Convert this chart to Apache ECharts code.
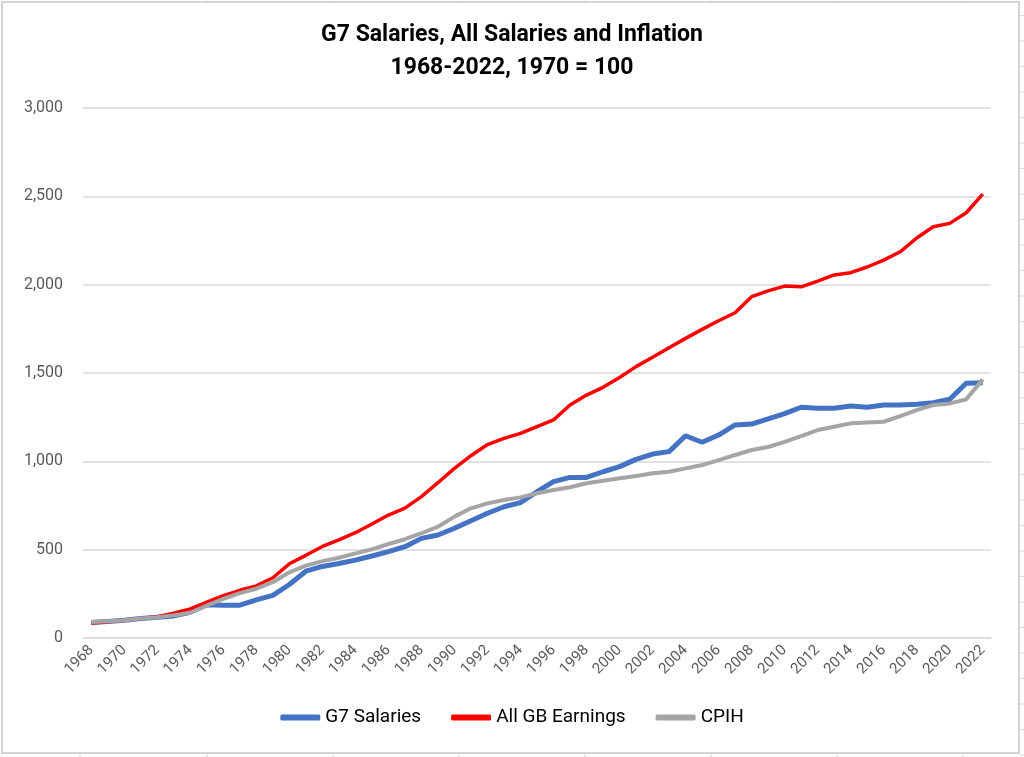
<!DOCTYPE html>
<html>
<head>
<meta charset="utf-8">
<script src="https://cdn.jsdelivr.net/npm/echarts@6/dist/echarts.min.js"></script>
<style>
  html, body { margin: 0; padding: 0; background: #fff; }
  #line_chart { width: 1024px; height: 757px; }
</style>
</head>
<body>
<div id="line_chart"></div>
<script>
// years on the x axis
let years = [];
for (let yr = 1968; yr <= 2022; yr++) years.push(String(yr));

// values, 1970 = 100
let g7Salaries = [88, 93, 100, 110, 117, 125, 146, 188, 186, 186,
    216, 241, 303, 378, 405, 422, 441, 464, 489, 517,
    564, 583, 621, 664, 706, 743, 766, 828, 885, 909,
    909, 941, 970, 1011, 1041, 1055, 1145, 1108, 1149, 1206,
    1211, 1240, 1270, 1306, 1300, 1300, 1313, 1306, 1319, 1319,
    1323, 1332, 1351, 1442, 1445];
let gbEarnings = [85, 92, 100, 110, 120, 140, 165, 203, 240, 270,
    295, 341, 420, 468, 518, 556, 596, 645, 696, 735,
    800, 879, 960, 1032, 1095, 1130, 1158, 1196, 1234, 1319,
    1375, 1419, 1475, 1536, 1589, 1643, 1696, 1747, 1796, 1841,
    1932, 1965, 1992, 1988, 2020, 2055, 2068, 2100, 2139, 2186,
    2264, 2328, 2347, 2407, 2513];
let cpih = [90, 95, 100, 110, 117, 128, 143, 184, 221, 254,
    279, 316, 372, 410, 435, 454, 479, 502, 532, 559,
    593, 630, 687, 734, 762, 781, 796, 819, 838, 853,
    876, 890, 904, 917, 932, 941, 960, 979, 1007, 1036,
    1064, 1081, 1110, 1143, 1177, 1196, 1215, 1220, 1224, 1256,
    1290, 1319, 1328, 1351, 1464];

let myChart = echarts.init(document.getElementById('line_chart'));
let font = 'Roboto, "Open Sans", sans-serif';

// chart frame and the spreadsheet cell lines peeking out around it
let sheet = [{
    type: 'rect',
    shape: { x: 2, y: 2, width: 1017, height: 751 },
    style: { fill: null, stroke: '#d4d4d4', lineWidth: 2 },
    silent: true
}];
for (let k = 0; k < 30; k++) {
    sheet.push({
        type: 'line',
        shape: { x1: 1020, y1: 15.5 + k * 25.5, x2: 1024, y2: 15.5 + k * 25.5 },
        style: { stroke: '#d9d9d9', lineWidth: 1 },
        silent: true
    });
}
[80, 207, 333, 459, 585, 711, 837, 963].forEach(x => {
    sheet.push({
        type: 'line',
        shape: { x1: x, y1: 0, x2: x, y2: 1 },
        style: { stroke: '#d9d9d9', lineWidth: 1 },
        silent: true
    });
    sheet.push({
        type: 'line',
        shape: { x1: x, y1: 754, x2: x, y2: 757 },
        style: { stroke: '#d9d9d9', lineWidth: 1 },
        silent: true
    });
});

let option = {
    backgroundColor: '#fff',
    animation: false,
    graphic: sheet,
    title: {
        text: 'G7 Salaries, All Salaries and Inflation\n1968-2022, 1970 = 100',
        left: 'center',
        top: 14,
        textStyle: {
            fontFamily: font,
            fontWeight: 'bold',
            fontSize: 23,
            lineHeight: 33,
            color: '#000'
        }
    },
    legend: {
        data: ['G7 Salaries', 'All GB Earnings', 'CPIH'],
        bottom: 25,
        left: 'center',
        itemWidth: 40,
        itemHeight: 6,
        itemGap: 30,
        icon: 'roundRect',
        textStyle: { fontFamily: font, fontSize: 19, color: '#000' }
    },
    grid: {
        left: 83,
        right: 33,
        top: 108,
        bottom: 119
    },
    xAxis: {
        type: 'category',
        data: years,
        boundaryGap: true,
        axisLine: { lineStyle: { color: '#d9d9d9', width: 1.5 } },
        axisTick: { show: false },
        axisLabel: {
            interval: 1,
            rotate: 45,
            margin: 10,
            fontFamily: font,
            fontSize: 15,
            color: '#595959',
            hideOverlap: false
        }
    },
    yAxis: {
        type: 'value',
        min: 0,
        max: 3000,
        interval: 500,
        axisLine: { show: false },
        axisTick: { show: false },
        axisLabel: {
            margin: 20,
            fontFamily: font,
            fontSize: 16,
            color: '#595959',
            formatter: v => v.toLocaleString('en-US')
        },
        splitLine: { lineStyle: { color: '#d9d9d9', width: 1.5 } }
    },
    series: [{
        name: 'G7 Salaries',
        type: 'line',
        data: g7Salaries,
        showSymbol: false,
        lineStyle: { width: 5, color: '#4472C4' },
        itemStyle: { color: '#4472C4' }
    },
    {
        name: 'All GB Earnings',
        type: 'line',
        data: gbEarnings,
        showSymbol: false,
        lineStyle: { width: 3.5, color: '#FF0000' },
        itemStyle: { color: '#FF0000' }
    },
    {
        name: 'CPIH',
        type: 'line',
        data: cpih,
        showSymbol: false,
        lineStyle: { width: 4, color: '#A5A5A5' },
        itemStyle: { color: '#A5A5A5' }
    }]
};
myChart.setOption(option);
</script>
</body>
</html>
